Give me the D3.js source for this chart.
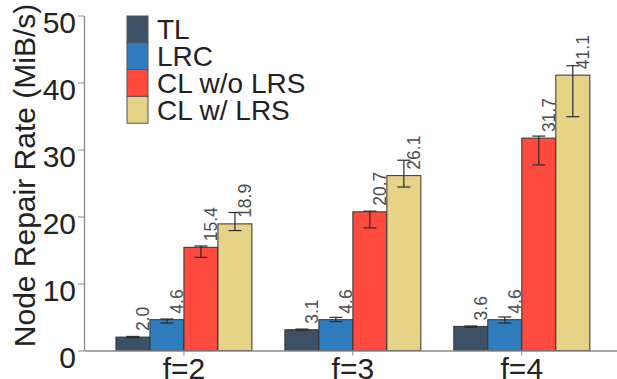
<!DOCTYPE html>
<html>
<head>
<meta charset="utf-8">
<script src="https://cdn.jsdelivr.net/npm/d3@7"></script>
<style>
  body { margin: 0; background: #fff; }
  svg text { font-family: "Liberation Sans", Arial, sans-serif; }
  .tickLabel { font-size: 30px; fill: #222; }
  .axisTitle { font-size: 30px; fill: #222; }
  .legendLabel { font-size: 28px; fill: #222; }
  .valueLabel { font-size: 17.5px; fill: #4d4d4d; }
</style>
</head>
<body>
<div id="chart"></div>
<script>
"use strict";

// data
const categories = ["f=2", "f=3", "f=4"];
const seriesNames = ["TL", "LRC", "CL w/o LRS", "CL w/ LRS"];
const seriesColors = ["#3c5066", "#2f7dbd", "#ff4a3f", "#e6d386"];
const tlValues = [2.0, 3.1, 3.6];
const lrcValues = [4.6, 4.6, 4.6];
const clNoLrsValues = [15.4, 20.7, 31.7];
const clLrsValues = [18.9, 26.1, 41.1];
// error bar ends (low, high) per series and category
const tlErr = [[1.9, 2.1], [3.0, 3.2], [3.45, 3.65]];
const lrcErr = [[4.1, 4.7], [4.3, 4.95], [4.1, 5.0]];
const clNoLrsErr = [[13.9, 15.6], [18.3, 20.8], [27.7, 32.0]];
const clLrsErr = [[17.9, 20.6], [24.4, 28.4], [34.9, 42.5]];
const yTicks = [0, 10, 20, 30, 40, 50];

const seriesValues = [tlValues, lrcValues, clNoLrsValues, clLrsValues];
const seriesErr = [tlErr, lrcErr, clNoLrsErr, clLrsErr];

/**
 * draws the grouped bar chart
 */
function drawChart() {
    const size = { width: 617, height: 379 };
    const plot = { left: 84, right: 617, top: 15.5, bottom: 350.5 };

    let svg = d3.select("#chart").append("svg")
        .attr("width", size.width)
        .attr("height", size.height);

    //scales
    let x = d3.scaleBand()
        .domain(categories)
        .range([plot.left, plot.right])
        .paddingInner(0.195)
        .paddingOuter(0.175)
        .align(0.54);

    let xSub = d3.scaleBand()
        .domain(seriesNames)
        .range([0, x.bandwidth()]);

    let y = d3.scaleLinear()
        .domain([0, 50])
        .range([plot.bottom, plot.top]);

    //build rows so every bar keeps its series and category
    const rows = [];
    categories.forEach((c, ci) => {
        seriesNames.forEach((s, si) => {
            rows.push({ cat: c, series: s, color: seriesColors[si],
                        v: seriesValues[si][ci], err: seriesErr[si][ci] });
        });
    });

    drawBars(svg, rows, x, xSub, y);
    drawAxes(svg, x, y, plot);
    drawLegend(svg);
}

/**
 * bars, error bars and rotated value labels
 */
function drawBars(svg, rows, x, xSub, y) {
    let g = svg.append("g").selectAll("g.bar")
        .data(rows)
        .enter()
        .append("g")
        .classed("bar", true)
        .attr("transform", d => `translate(${x(d.cat) + xSub(d.series)},0)`);

    g.append("rect")
        .attr("x", 0)
        .attr("y", d => y(d.v))
        .attr("width", xSub.bandwidth())
        .attr("height", d => y(0) - y(d.v))
        .attr("fill", d => d.color)
        .attr("stroke", "#333")
        .attr("stroke-width", 1);

    const mid = xSub.bandwidth() / 2;
    const cap = 6.5;
    let err = g.append("g")
        .attr("stroke", "#2b2b2b")
        .attr("stroke-width", 1.2);
    err.append("line")
        .attr("x1", mid).attr("x2", mid)
        .attr("y1", d => y(d.err[0])).attr("y2", d => y(d.err[1]));
    err.append("line")
        .attr("x1", mid - cap).attr("x2", mid + cap)
        .attr("y1", d => y(d.err[0])).attr("y2", d => y(d.err[0]));
    err.append("line")
        .attr("x1", mid - cap).attr("x2", mid + cap)
        .attr("y1", d => y(d.err[1])).attr("y2", d => y(d.err[1]));

    g.append("text")
        .classed("valueLabel", true)
        .attr("transform", d => `translate(${xSub.bandwidth() - 1},${y(d.v) - 6}) rotate(-90)`)
        .attr("text-anchor", "start")
        .text(d => d.v.toFixed(1));
}

/**
 * axes with the grey lines and large labels
 */
function drawAxes(svg, x, y, plot) {
    let xAxis = svg.append("g")
        .attr("transform", `translate(0,${plot.bottom})`)
        .call(d3.axisBottom(x).tickSize(5).tickSizeOuter(0));
    xAxis.select(".domain").attr("stroke", "#8a8a8a").attr("stroke-width", 1.3);
    xAxis.selectAll(".tick line").attr("stroke", "#8a8a8a");
    xAxis.selectAll(".tick text")
        .classed("tickLabel", true)
        .attr("font-size", null).attr("font-family", null).attr("fill", null)
        .attr("y", 28.5).attr("dy", 0);

    let yAxis = svg.append("g")
        .attr("transform", `translate(${plot.left},0)`)
        .call(d3.axisLeft(y).tickValues(yTicks).tickSize(6).tickSizeOuter(0).tickPadding(2));
    yAxis.select(".domain").attr("stroke", "#8a8a8a").attr("stroke-width", 1.3);
    yAxis.selectAll(".tick line").attr("stroke", "#8a8a8a");
    yAxis.selectAll(".tick text")
        .classed("tickLabel", true)
        .attr("font-size", null).attr("font-family", null).attr("fill", null)
        .attr("dy", 17);

    svg.append("text")
        .classed("axisTitle", true)
        .attr("transform", `translate(35,${(3 + 348) / 2}) rotate(-90)`)
        .attr("text-anchor", "middle")
        .text("Node Repair Rate (MiB/s)");
}

/**
 * legend in the top left of the plot
 */
function drawLegend(svg) {
    const pos = { x: 127, y: 16, key: 21, row: 26.8 };
    let items = svg.append("g")
        .selectAll("g")
        .data(seriesNames)
        .enter()
        .append("g")
        .attr("transform", (_, i) => `translate(${pos.x},${pos.y + i * pos.row})`);

    items.append("rect")
        .attr("width", pos.key)
        .attr("height", pos.row)
        .attr("fill", (_, i) => seriesColors[i])
        .attr("stroke", "#555")
        .attr("stroke-width", 1);

    items.append("text")
        .classed("legendLabel", true)
        .attr("x", 30)
        .attr("y", pos.row / 2)
        .attr("dy", "0.36em")
        .text(d => d);
}

drawChart();
</script>
</body>
</html>
